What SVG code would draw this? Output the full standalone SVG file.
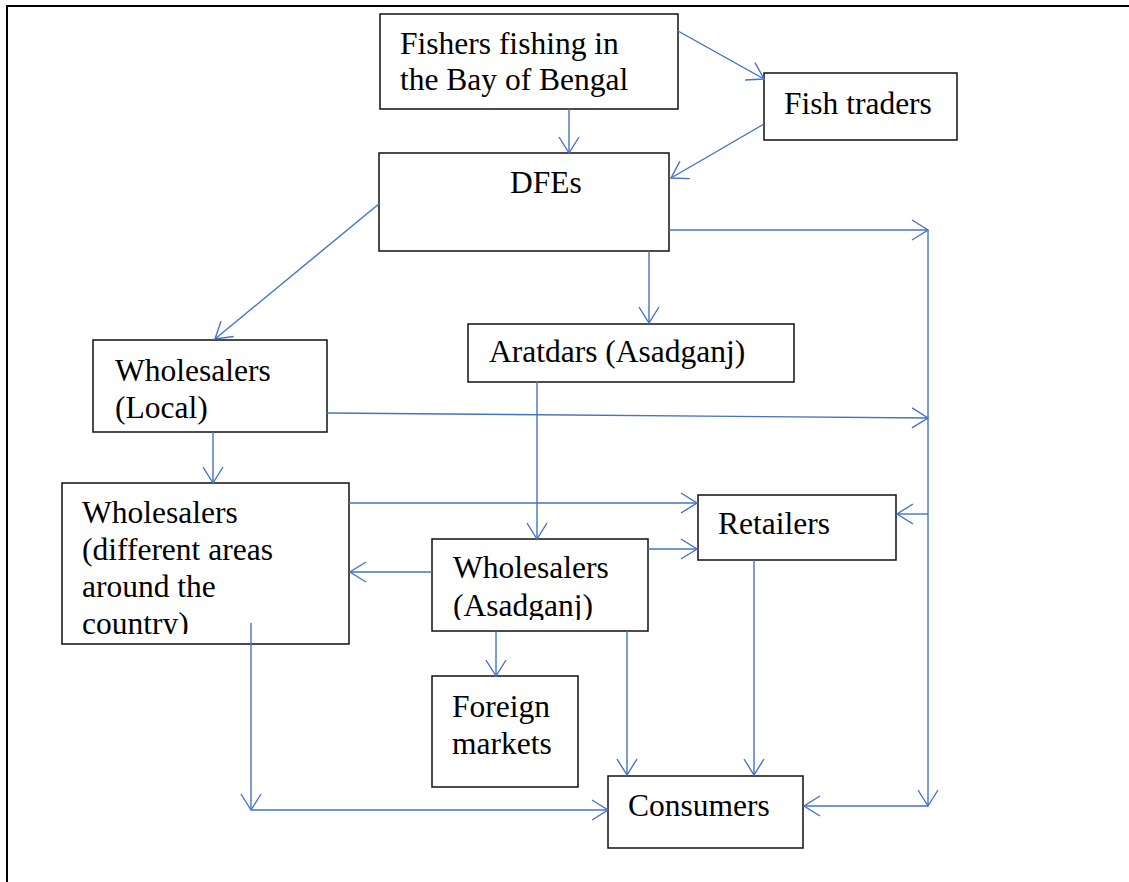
<svg xmlns="http://www.w3.org/2000/svg" width="1129" height="882" viewBox="0 0 1129 882">
<style>
.box{fill:#fff;stroke:#111;stroke-width:1.5}
.t{font-family:"Liberation Serif","Times New Roman",serif;font-size:31.5px;fill:#000}
.c{fill:none;stroke:#4472C4;stroke-width:1.4}
.a{marker-end:url(#arr)}
</style>
<defs>
<marker id="arr" markerUnits="userSpaceOnUse" markerWidth="40" markerHeight="40" viewBox="-20 -20 40 40" refX="0" refY="0" orient="auto" overflow="visible">
<path d="M-16,-10 L0,0 L-16,10" fill="none" stroke="#4472C4" stroke-width="1.4"/>
</marker>
<clipPath id="clipDiff"><rect x="62" y="483" width="287" height="151"/></clipPath>
<clipPath id="clipAsad"><rect x="432" y="539" width="216" height="81"/></clipPath>
</defs>
<rect width="1129" height="882" fill="#fff"/>
<g id="frame">
<line x1="6" y1="6" x2="1129" y2="6" stroke="#000" stroke-width="2"/>
<line x1="7" y1="6" x2="7" y2="882" stroke="#000" stroke-width="2"/>
</g>
<g id="fishers">
<rect class="box" x="380" y="14" width="298" height="95"/>
<text class="t" x="400" y="54">Fishers fishing in</text>
<text class="t" x="400" y="90">the Bay of Bengal</text>
</g>
<g id="fish-traders">
<rect class="box" x="764" y="73" width="193" height="67"/>
<text class="t" x="784" y="114">Fish traders</text>
</g>
<g id="dfes">
<rect class="box" x="379" y="153" width="290" height="98"/>
<text class="t" x="510" y="193">DFEs</text>
</g>
<g id="aratdars">
<rect class="box" x="468" y="324" width="326" height="58"/>
<text class="t" x="489" y="362">Aratdars (Asadganj)</text>
</g>
<g id="wholesalers-local">
<rect class="box" x="93" y="340" width="234" height="92"/>
<text class="t" x="115" y="381">Wholesalers</text>
<text class="t" x="115" y="418">(Local)</text>
</g>
<g id="wholesalers-different">
<rect class="box" x="62" y="483" width="287" height="161"/>
<g clip-path="url(#clipDiff)">
<text class="t" x="82" y="523">Wholesalers</text>
<text class="t" x="82" y="560">(different areas</text>
<text class="t" x="82" y="597">around the</text>
<text class="t" x="82" y="634">country)</text>
</g>
</g>
<g id="wholesalers-asadganj">
<rect class="box" x="432" y="539" width="216" height="92"/>
<g clip-path="url(#clipAsad)">
<text class="t" x="453" y="578">Wholesalers</text>
<text class="t" x="453" y="616">(Asadganj)</text>
</g>
</g>
<g id="retailers">
<rect class="box" x="698" y="495" width="198" height="65"/>
<text class="t" x="718" y="534">Retailers</text>
</g>
<g id="foreign-markets">
<rect class="box" x="432" y="676" width="146" height="111"/>
<text class="t" x="452" y="717">Foreign</text>
<text class="t" x="452" y="754">markets</text>
</g>
<g id="consumers">
<rect class="box" x="608" y="776" width="195" height="72"/>
<text class="t" x="628" y="816">Consumers</text>
</g>
<g id="connectors">
<line class="c a" x1="678" y1="31" x2="764" y2="79"/>
<line class="c a" x1="569" y1="109" x2="569" y2="153"/>
<line class="c a" x1="764" y1="124" x2="671" y2="178"/>
<line class="c a" x1="380" y1="203" x2="215" y2="339"/>
<line class="c a" x1="649" y1="251" x2="649" y2="323"/>
<line class="c a" x1="669" y1="230" x2="928" y2="230"/>
<line class="c a" x1="928" y1="230" x2="928" y2="806"/>
<line class="c a" x1="327" y1="413" x2="928" y2="418"/>
<line class="c a" x1="928" y1="514" x2="897" y2="514"/>
<line class="c a" x1="928" y1="806" x2="804" y2="806"/>
<line class="c a" x1="213" y1="432" x2="213" y2="483"/>
<line class="c a" x1="537" y1="381" x2="537" y2="539"/>
<line class="c a" x1="349" y1="503" x2="697" y2="503"/>
<line class="c a" x1="648" y1="549" x2="697" y2="549"/>
<line class="c a" x1="432" y1="572" x2="350" y2="572"/>
<line class="c a" x1="496" y1="631" x2="496" y2="676"/>
<line class="c a" x1="627" y1="631" x2="627" y2="775"/>
<line class="c a" x1="754" y1="560" x2="754" y2="775"/>
<line class="c a" x1="251" y1="623" x2="251" y2="810"/>
<line class="c a" x1="251" y1="810" x2="608" y2="810"/>
</g>
</svg>
